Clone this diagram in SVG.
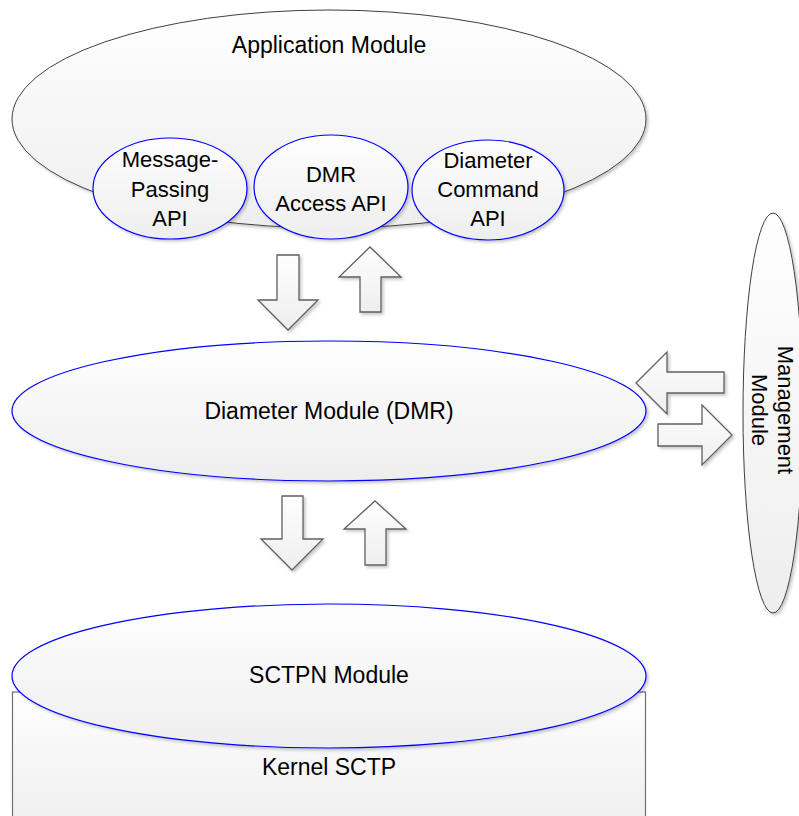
<svg xmlns="http://www.w3.org/2000/svg" width="799" height="816" viewBox="0 0 799 816">
<defs>
<linearGradient id="g" x1="0" y1="0" x2="0" y2="1">
<stop offset="0" stop-color="#fefefe"/>
<stop offset="1" stop-color="#eeeeee"/>
</linearGradient>
<filter id="sh" x="-10%" y="-10%" width="125%" height="125%">
<feDropShadow dx="2" dy="2" stdDeviation="1.5" flood-color="#000" flood-opacity="0.22"/>
</filter>
</defs>
<style>
.blk{fill:url(#g);stroke:#404040;stroke-width:1;filter:url(#sh)}
.blu{fill:url(#g);stroke:#0000ff;stroke-width:1.2;filter:url(#sh)}
.rect{fill:url(#g);stroke:#707070;stroke-width:1.2}
.arr{fill:url(#g);stroke:#606060;stroke-width:1.3;stroke-linejoin:miter;filter:url(#sh)}
text{font-family:"Liberation Sans",Arial,sans-serif;font-size:23px;fill:#000;text-anchor:middle}
.s{font-size:22px}
.m{font-size:22px}
</style>
<rect width="799" height="816" fill="#fff"/>
<g id="application-module">
<ellipse class="blk" cx="329" cy="119" rx="317" ry="109"/>
<text x="329" y="53">Application Module</text>
</g>
<g id="message-passing-api">
<ellipse class="blu" cx="170" cy="188.5" rx="77" ry="50.5"/>
<text class="s" x="170" y="167">Message-</text>
<text class="s" x="170" y="197">Passing</text>
<text class="s" x="170" y="226">API</text>
</g>
<g id="dmr-access-api">
<ellipse class="blu" cx="331" cy="187" rx="77" ry="52"/>
<text class="s" x="331" y="182">DMR</text>
<text class="s" x="331" y="211">Access API</text>
</g>
<g id="diameter-command-api">
<ellipse class="blu" cx="488" cy="190" rx="76" ry="50"/>
<text class="s" x="488" y="168">Diameter</text>
<text class="s" x="488" y="197">Command</text>
<text class="s" x="488" y="226">API</text>
</g>
<g id="diameter-module">
<ellipse class="blu" cx="329" cy="411" rx="317" ry="70"/>
<text x="329" y="419">Diameter Module (DMR)</text>
</g>
<g id="management-module">
<ellipse class="blk" cx="773" cy="413" rx="30" ry="200"/>
<text class="m" transform="translate(778,410) rotate(90)">Management</text>
<text class="m" transform="translate(752,410) rotate(90)">Module</text>
</g>
<g id="kernel-sctp">
<rect class="rect" x="12.5" y="692" width="633" height="140"/>
<text x="329" y="775">Kernel SCTP</text>
</g>
<g id="sctpn-module">
<ellipse class="blu" cx="329" cy="676" rx="317" ry="72"/>
<text x="329" y="683">SCTPN Module</text>
</g>
<g id="connectors">
<polygon class="arr" points="277,255 299,255 299,300 318,300 288,330 258,300 277,300"/>
<polygon class="arr" points="370,247 401,277 381,277 381,312 360,312 360,277 339,277"/>
<polygon class="arr" points="282,496 303,496 303,539 323,539 292,570 261,539 282,539"/>
<polygon class="arr" points="375,501 406,529 386,529 386,565 365,565 365,529 344,529"/>
<polygon class="arr" points="636,383 667,352 667,372 724,372 724,393 667,393 667,414"/>
<polygon class="arr" points="658,424 702,424 702,405 732,435 702,465 702,446 658,446"/>
</g>
</svg>
